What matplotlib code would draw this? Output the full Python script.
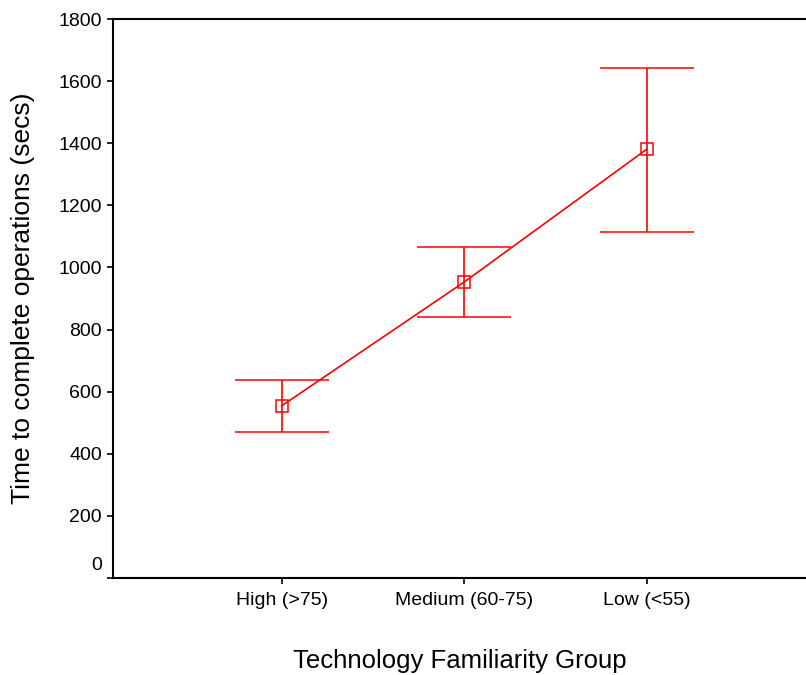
import matplotlib.pyplot as plt
import matplotlib.transforms as mtransforms

plt.rcParams['font.family'] = ['Liberation Sans', 'DejaVu Sans']

groups = ['High (>75)', 'Medium (60-75)', 'Low (<55)']
means = [554, 953, 1381]
upper = [637, 1066, 1644]
lower = [471, 840, 1114]

x = [1, 2, 3]
err_lo = [m - l for m, l in zip(means, lower)]
err_hi = [u - m for u, m in zip(upper, means)]

fig = plt.figure(figsize=(8.06, 6.75), dpi=100)
ax = fig.add_axes([113 / 806, 1 - 577.7 / 675, (806 - 113) / 806, (577.7 - 19.3) / 675])

ax.errorbar(x, means, yerr=[err_lo, err_hi], color='#ff0000', lw=1.2,
            elinewidth=1.2, capsize=34, capthick=1.2,
            marker='s', markersize=8.5, markerfacecolor='none',
            markeredgecolor='#ff0000', markeredgewidth=1.1)

ax.set_xlim(0.076, 3.873)
ax.set_ylim(0, 1800)
ax.set_yticks(range(0, 1801, 200))
ax.set_xticks(x)
ax.set_xticklabels(groups, fontsize=14)
ax.tick_params(axis='y', labelsize=14, length=4, width=1.2, pad=4)
ax.tick_params(axis='x', length=4, width=1.2, pad=6)

# zero label sits a little above its tick
lab0 = ax.get_yticklabels()[0]
lab0.set_transform(lab0.get_transform() + mtransforms.ScaledTranslation(0, 10 / 72, fig.dpi_scale_trans))

for side in ['left', 'bottom', 'top']:
    ax.spines[side].set_linewidth(1.5)
ax.spines['right'].set_visible(False)

ax.set_ylabel('Time to complete operations (secs)', fontsize=19)
ax.yaxis.set_label_coords(-(113 - 23) / 693, 0.5)
ax.set_xlabel('Technology Familiarity Group', fontsize=18.5)
ax.xaxis.set_label_coords(0.5, -(661 - 577.7) / 558.4)
ax.xaxis.label.set_va('center')
ax.yaxis.label.set_va('center')

fig.savefig('out.png', dpi=100)
